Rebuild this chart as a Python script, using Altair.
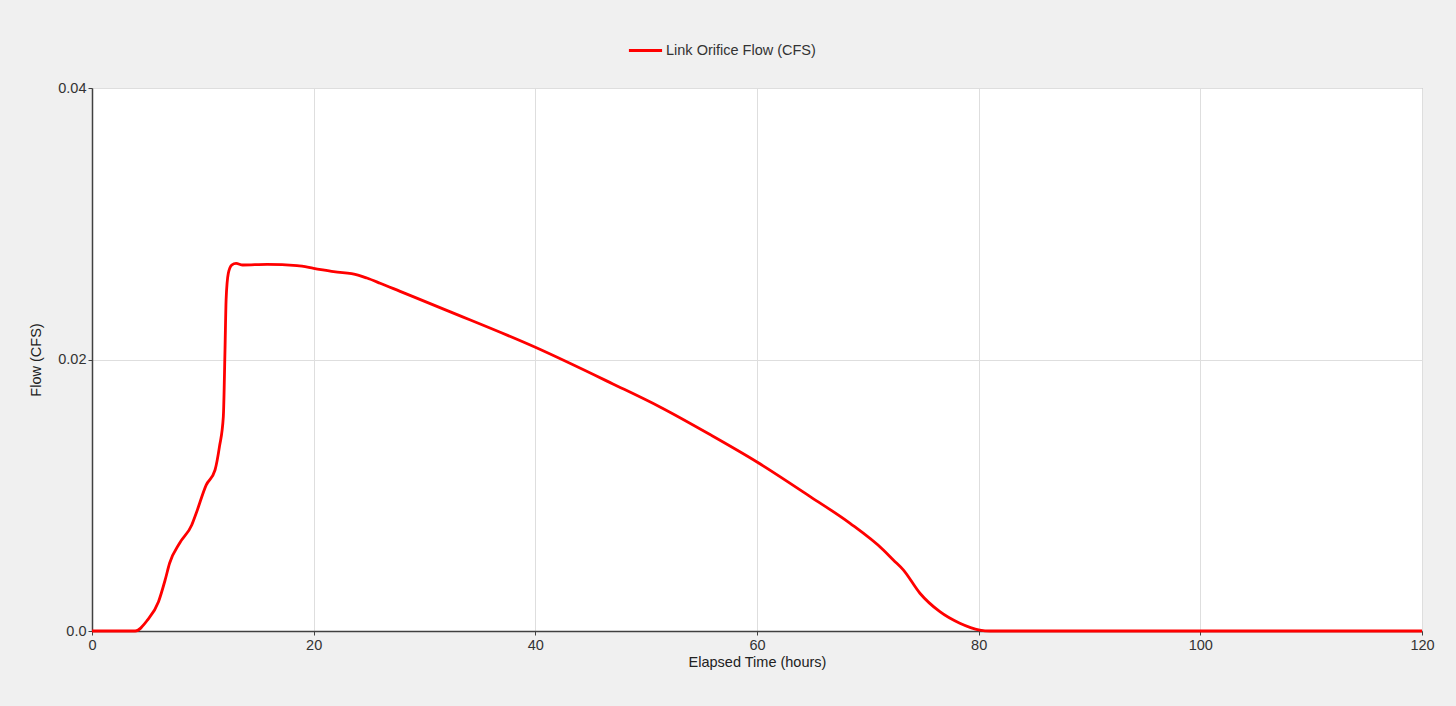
import altair as alt
import pandas as pd

# Elapsed time (hours) and link orifice flow (CFS)
hours = [0, 3.9, 5.0, 6.0, 6.6, 7.0, 7.9, 9.0, 9.4, 10.3, 11.1, 11.5, 11.85,
         12.0, 12.1, 12.3, 12.6, 13.0, 13.6, 15.8, 18.5, 20.0, 21.8, 24.0,
         24.8, 26.0, 27.8, 32.0, 40.0, 47.0, 51.25, 55.8, 60.0, 64.8,
         68.4, 71.4, 72.3, 73.2, 74.7, 76.5, 78.3, 80.1, 81.0, 120.0]
flow = [0, 0, 0.0008, 0.00216, 0.00376, 0.00499, 0.00646, 0.00781, 0.00867,
        0.01075, 0.01186, 0.01358, 0.01579, 0.0207, 0.0244, 0.02635, 0.02696,
        0.02708, 0.02696, 0.02701, 0.02691, 0.02672, 0.02647, 0.02622, 0.02600,
        0.02562, 0.02502, 0.02362, 0.0209, 0.0182, 0.0165, 0.01445,
        0.01245, 0.0099, 0.00793, 0.00597, 0.00523, 0.0045, 0.00278, 0.00142,
        0.00057, 0.00007, 0, 0]
series = "Link Orifice Flow (CFS)"

df = pd.DataFrame({"t": hours, "q": flow, "s": series})

FONT = "Liberation Sans"
TXT = "#333333"

chart = alt.Chart(df).mark_line(strokeWidth=2.8, interpolate="monotone").encode(
    x=alt.X("t:Q", title="Elapsed Time (hours)",
            scale=alt.Scale(domain=[0, 120], nice=False, zero=False),
            axis=alt.Axis(values=[0, 20, 40, 60, 80, 100, 120], format="d",
                          grid=True, gridColor="#dedede", domainColor="#404040",
                          domainWidth=1.5, tickColor="#404040", tickSize=4,
                          labelPadding=3, titlePadding=4, labelFlush=False)),
    y=alt.Y("q:Q", title="Flow (CFS)",
            scale=alt.Scale(domain=[0, 0.04], nice=False),
            axis=alt.Axis(values=[0, 0.02, 0.04],
                          labelExpr="datum.value == 0 ? '0.0' : format(datum.value, '.2f')",
                          grid=True, gridColor="#dedede", domainColor="#404040",
                          domainWidth=1.5, tickColor="#404040", tickSize=4,
                          labelPadding=2, titlePadding=14)),
    color=alt.Color("s:N", title=None,
                    scale=alt.Scale(domain=[series], range=["#ff0000"]),
                    legend=alt.Legend(orient="none", legendX=535, legendY=-56,
                                      symbolType="stroke", symbolSize=1100,
                                      symbolStrokeWidth=3, labelFontSize=14.5,
                                      labelFont=FONT, labelColor=TXT,
                                      labelOffset=2, padding=0)),
).properties(
    width=1330, height=543,
    background="#f0f0f0",
    padding={"left": 92, "top": 88, "right": 34, "bottom": 75},
    autosize=alt.AutoSizeParams(type="none"),
).configure_view(
    fill="white", stroke="#a0a0a0", strokeWidth=1
).configure_axis(
    labelFont=FONT, titleFont=FONT, labelFontSize=14.5, titleFontSize=14.5,
    labelColor=TXT, titleColor="#222222", titleFontWeight="normal"
)

chart.save("out.html", embed_options={"renderer": "svg", "actions": False})
